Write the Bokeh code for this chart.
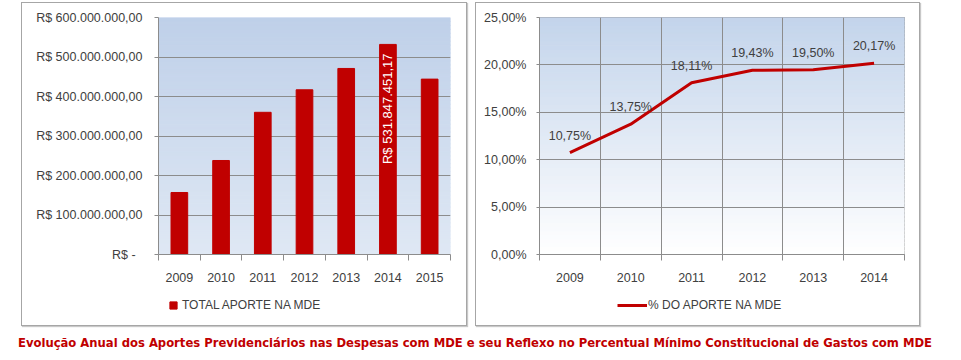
import math
import numpy as np
from bokeh.plotting import figure
from bokeh.models import FixedTicker, Legend, LegendItem, Div, Spacer, Range1d
from bokeh.layouts import row, column
from bokeh.core.properties import value
from bokeh.embed import file_html
from bokeh.resources import INLINE

# ---------------- data ----------------
years_total = ["2009", "2010", "2011", "2012", "2013", "2014", "2015"]
total_aporte = [157e6, 238e6, 360e6, 417e6, 471e6, 531847451.17, 444e6]
labelled_year = "2014"
y1_ticks = [0, 100e6, 200e6, 300e6, 400e6, 500e6, 600e6]
legend1_label = "TOTAL APORTE NA MDE"

years_pct = ["2009", "2010", "2011", "2012", "2013", "2014"]
pct_aporte = [10.75, 13.75, 18.11, 19.43, 19.50, 20.17]
y2_ticks = [0, 5, 10, 15, 20, 25]
legend2_label = "% DO APORTE NA MDE"

caption = ("Evolução Anual dos Aportes Previdenciários nas Despesas com MDE e seu "
           "Reflexo no Percentual Mínimo Constitucional de Gastos com MDE")

RED = "#c00000"
GRID = "#8c8c8c"
TXT = "#404040"
FONT = "Liberation Sans"
FS = "12.5px"
LEG_H = 40


def brl(v):
    if v == 0:
        return "R$ -\u00a0\u00a0"
    s = f"{v:,.2f}".replace(",", "X").replace(".", ",").replace("X", ".")
    return "R$ " + s


def pct(v):
    return f"{v:.2f}".replace(".", ",") + "%"


def hex_interp(c0, c1, t):
    a = [int(c0[i:i + 2], 16) for i in (1, 3, 5)]
    b = [int(c1[i:i + 2], 16) for i in (1, 3, 5)]
    return "#%02x%02x%02x" % tuple(round(a[k] + (b[k] - a[k]) * t) for k in range(3))


def gradient(p, x0, x1, y0, y1, c_bottom, c_top, n=60):
    ys = np.linspace(y0, y1, n + 1)
    cols = [hex_interp(c_bottom, c_top, (i + 0.5) / n) for i in range(n)]
    p.quad(left=x0, right=x1, bottom=ys[:-1], top=ys[1:], fill_color=cols,
           line_color=cols, line_width=1, level="underlay")


def style_common(p):
    p.outline_line_color = None
    p.background_fill_color = "white"
    p.border_fill_color = "white"
    for ax in (p.xaxis[0], p.yaxis[0]):
        ax.axis_line_color = GRID
        ax.major_label_text_font = FONT
        ax.major_label_text_font_size = FS
        ax.major_label_text_color = TXT
        ax.major_tick_line_color = GRID
        ax.minor_tick_line_color = GRID


def legend_fig(width, kind, label, x_off, standoff, glyph_w):
    # legend strip below the chart; the proxy renderer sits outside the visible range
    lf = figure(width=width, height=LEG_H, x_range=Range1d(0, 1), y_range=Range1d(0, 1),
                output_backend="svg", toolbar_location=None, x_axis_type=None,
                y_axis_type=None, min_border=0, outline_line_color=None)
    lf.grid.visible = False
    lf.background_fill_color = "white"
    lf.border_fill_color = "white"
    if kind == "square":
        r = lf.scatter(x=[5], y=[5], marker="square", size=7, fill_color=RED, line_color=RED)
    else:
        r = lf.line(x=[5, 6], y=[5, 5], line_color=RED, line_width=3)
    leg = Legend(items=[LegendItem(label=label, renderers=[r])], location=(x_off, 11),
                 orientation="horizontal", glyph_width=glyph_w, glyph_height=18,
                 label_height=18, label_standoff=standoff, padding=0, margin=0,
                 border_line_color=None, background_fill_alpha=0, label_text_font=FONT,
                 label_text_font_size="12px", label_text_color=TXT)
    lf.add_layout(leg, "center")
    return lf


panel_style = {"border": "1px solid #a6a6a6", "box-shadow": "1px 1px 1px #c8c8c8"}

# ---------------- left chart ----------------
n1 = len(years_total)
x1 = list(np.arange(n1) + 0.5)
p1 = figure(width=444, height=322 - LEG_H, x_range=Range1d(0, n1),
            y_range=Range1d(y1_ticks[0], y1_ticks[-1]),
            output_backend="svg", toolbar_location=None,
            min_border_left=136, min_border_right=16, min_border_top=14, min_border_bottom=31)
style_common(p1)
gradient(p1, 0, n1, y1_ticks[0], y1_ticks[-1], "#dfe8f4", "#bfd0e9")
bars = p1.vbar(x=x1, top=total_aporte, width=0.4, fill_color=RED, line_color=RED)

idx = years_total.index(labelled_year)
p1.text(x=[x1[idx]], y=[total_aporte[idx]], text=[brl(total_aporte[idx])],
        angle=math.pi / 2, text_align="right", text_baseline="middle", y_offset=9,
        text_color="white", text_font=value(FONT), text_font_size="13px")

p1.xaxis.ticker = FixedTicker(ticks=x1, minor_ticks=list(range(n1 + 1)))
p1.xaxis.major_label_overrides = {float(x): y for x, y in zip(x1, years_total)}
p1.xaxis.major_tick_line_color = None
p1.xaxis.major_tick_out = 0
p1.xaxis.major_tick_in = 0
p1.xaxis.minor_tick_out = 6
p1.xaxis.minor_tick_in = 0
p1.xaxis.major_label_standoff = 12
p1.yaxis.ticker = FixedTicker(ticks=y1_ticks, minor_ticks=[])
p1.yaxis.major_label_overrides = {float(v): brl(v) for v in y1_ticks}
p1.yaxis.major_tick_out = 4
p1.yaxis.major_tick_in = 0
p1.yaxis.major_label_standoff = 12
p1.xgrid.grid_line_color = None
p1.ygrid.ticker = FixedTicker(ticks=y1_ticks)
p1.ygrid.grid_line_color = GRID

l1 = legend_fig(444, "square", legend1_label, 6, 0, 18)

# ---------------- right chart ----------------
n2 = len(years_pct)
x2 = list(np.arange(n2) + 0.5)
p2 = figure(width=443, height=322 - LEG_H, x_range=Range1d(0, n2),
            y_range=Range1d(y2_ticks[0], y2_ticks[-1]),
            output_backend="svg", toolbar_location=None,
            min_border_left=63, min_border_right=15, min_border_top=14, min_border_bottom=31)
style_common(p2)
p2.outline_line_color = GRID
gradient(p2, 0, n2, y2_ticks[0], y2_ticks[-1], "#ffffff", "#c3d4eb")
ln = p2.line(x=x2, y=pct_aporte, line_color=RED, line_width=3)
p2.text(x=x2, y=pct_aporte, text=[pct(v) for v in pct_aporte], y_offset=-17,
        text_align="center", text_baseline="middle", text_color=TXT,
        text_font=value(FONT), text_font_size=FS)

p2.xaxis.ticker = FixedTicker(ticks=x2, minor_ticks=list(range(n2 + 1)))
p2.xaxis.major_label_overrides = {float(x): y for x, y in zip(x2, years_pct)}
p2.xaxis.major_tick_line_color = None
p2.xaxis.major_tick_out = 0
p2.xaxis.major_tick_in = 0
p2.xaxis.minor_tick_out = 6
p2.xaxis.minor_tick_in = 0
p2.xaxis.major_label_standoff = 12
p2.yaxis.ticker = FixedTicker(ticks=y2_ticks, minor_ticks=[])
p2.yaxis.major_label_overrides = {float(v): pct(v) for v in y2_ticks}
p2.yaxis.major_tick_out = 3
p2.yaxis.major_tick_in = 0
p2.yaxis.major_label_standoff = 10
p2.xgrid.ticker = FixedTicker(ticks=list(range(n2 + 1)))
p2.xgrid.grid_line_color = GRID
p2.ygrid.ticker = FixedTicker(ticks=y2_ticks)
p2.ygrid.grid_line_color = GRID

l2 = legend_fig(443, "line", legend2_label, 78, 1, 30)

# ---------------- caption & layout ----------------
cap = Div(text=caption, width=940, height=26,
          styles={"color": RED, "font-family": "DejaVu Sans", "font-weight": "bold",
                  "font-size": "11.6px", "text-align": "center", "width": "940px",
                  "padding-top": "4px"})

panel1 = column(p1, l1, styles=panel_style)
panel2 = column(p2, l2, styles=panel_style)
layout = column(Spacer(height=2),
                row(Spacer(width=21), panel1, Spacer(width=8), panel2),
                cap)

open("out.html", "w").write(file_html(layout, INLINE))
